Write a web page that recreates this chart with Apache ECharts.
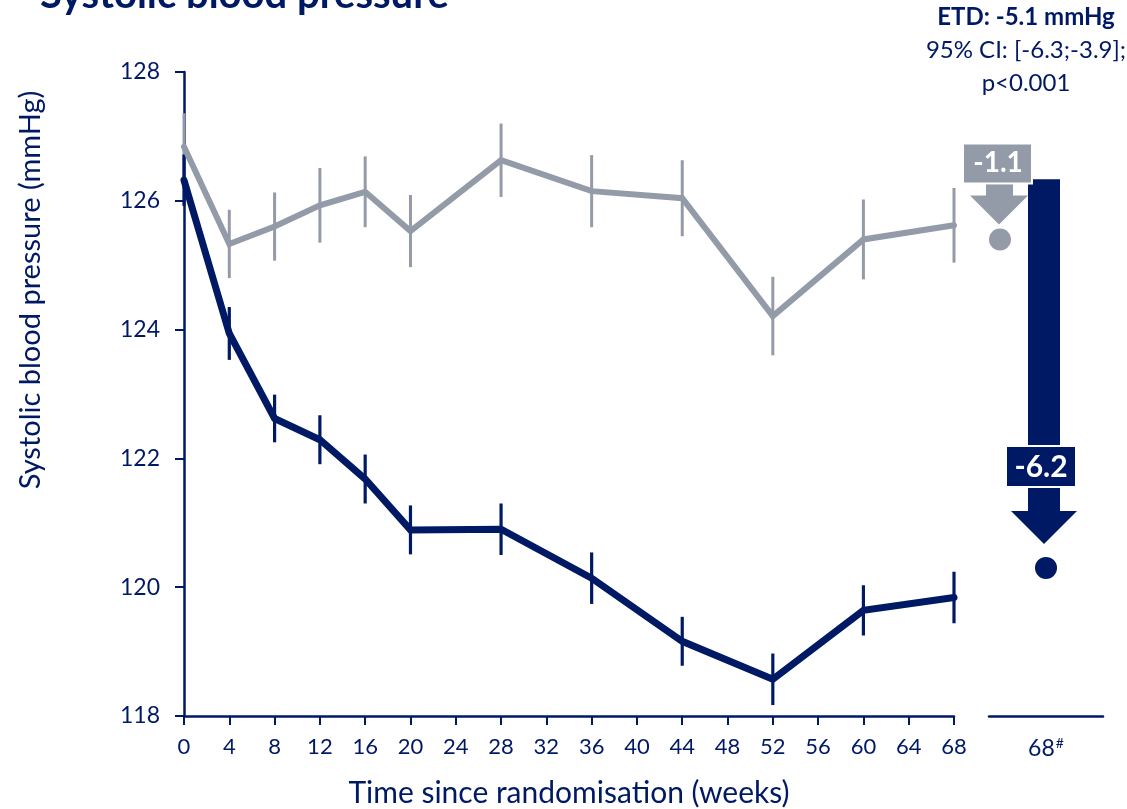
<!DOCTYPE html>
<html>
<head>
<meta charset="utf-8">
<script src="https://cdn.jsdelivr.net/npm/echarts@6/dist/echarts.min.js"></script>
<style>
  html, body { margin: 0; padding: 0; background: #ffffff; }
  #chart { width: 1127px; height: 809px; }
</style>
</head>
<body>
<div id="chart"></div>
<script>
// Colours and font
const NAVY = '#001965';
const GREY = '#949BA8';
const FONT = 'Lato, "Open Sans", sans-serif';

// Observed means (mmHg) with error-bar half widths, by week since randomisation
const weeks = [0, 4, 8, 12, 16, 20, 28, 36, 44, 52, 60, 68];
const semaMean = [126.32, 123.94, 122.62, 122.29, 121.68, 120.89, 120.90, 120.14, 119.16, 118.57, 119.64, 119.84];
const semaErr = [0.40, 0.41, 0.37, 0.38, 0.38, 0.38, 0.40, 0.40, 0.38, 0.40, 0.39, 0.40];
const placeboMean = [126.84, 125.33, 125.60, 125.93, 126.14, 125.53, 126.63, 126.15, 126.04, 124.21, 125.40, 125.62];
const placeboErr = [0.52, 0.53, 0.53, 0.58, 0.55, 0.56, 0.57, 0.56, 0.59, 0.61, 0.62, 0.58];

// Axis ticks
const yMin = 118, yMax = 128, yStep = 2;
const xMin = 0, xMax = 68, xStep = 4;

// Estimated change from baseline at week 68
const baselineSBP = 126.5;
const estCategory = '68';
const placeboChange = -1.1;
const semaChange = -6.2;
const placeboEst = baselineSBP + placeboChange;
const semaEst = baselineSBP + semaChange;

// Treatment difference summary
const etdLines = ['ETD: -5.1 mmHg', '95% CI: [-6.3;-3.9];', 'p<0.001'];

function errorBars(mean, err, color, width) {
  return {
    type: 'custom',
    xAxisIndex: 0, yAxisIndex: 0,
    silent: true,
    data: weeks.map((w, i) => [w, mean[i] - err[i], mean[i] + err[i]]),
    encode: { x: 0, y: [1, 2] },
    renderItem(params, api) {
      const lo = api.coord([api.value(0), api.value(1)]);
      const hi = api.coord([api.value(0), api.value(2)]);
      return {
        type: 'line',
        shape: { x1: lo[0], y1: lo[1], x2: hi[0], y2: hi[1] },
        style: { stroke: color, lineWidth: width }
      };
    }
  };
}

function meanLine(mean, color, width) {
  return {
    type: 'line',
    xAxisIndex: 0, yAxisIndex: 0,
    silent: true,
    showSymbol: false,
    data: weeks.map((w, i) => [w, mean[i]]),
    lineStyle: { color: color, width: width, cap: 'round', join: 'miter' }
  };
}

const chart = echarts.init(document.getElementById('chart'), null, { renderer: 'canvas' });

const axisLineStyle = { color: NAVY, width: 2.5 };

const option = {
  animation: false,
  backgroundColor: '#ffffff',
  textStyle: { fontFamily: FONT },
  grid: [
    { left: 184, right: 173, top: 72, bottom: 93, containLabel: false, outerBoundsMode: 'none' },
    { left: 989, right: 24, top: 72, bottom: 93, containLabel: false, outerBoundsMode: 'none' }
  ],
  xAxis: [
    {
      type: 'value', gridIndex: 0,
      min: xMin, max: xMax, interval: xStep,
      axisLine: { show: true, lineStyle: axisLineStyle },
      axisTick: { show: true, length: 9, lineStyle: { color: NAVY, width: 2 } },
      axisLabel: { color: NAVY, fontSize: 22, margin: 20, fontFamily: FONT },
      splitLine: { show: false },
      name: 'Time since randomisation (weeks)',
      nameLocation: 'middle',
      nameGap: 62,
      nameTextStyle: { color: NAVY, fontSize: 30, fontFamily: FONT }
    },
    {
      type: 'category', gridIndex: 1,
      data: [estCategory],
      axisLine: { show: true, lineStyle: axisLineStyle },
      axisTick: { show: false },
      axisLabel: {
        color: NAVY, margin: 20,
        formatter: (v) => '{n|' + v + '}{s|#}',
        rich: {
          n: { fontSize: 23, color: NAVY, fontFamily: FONT },
          s: { fontSize: 14, color: NAVY, fontFamily: FONT, padding: [0, 0, 11, 1] }
        }
      },
      splitLine: { show: false }
    }
  ],
  yAxis: [
    {
      type: 'value', gridIndex: 0,
      min: yMin, max: yMax, interval: yStep,
      axisLine: { show: true, lineStyle: axisLineStyle },
      axisTick: { show: true, length: 9, lineStyle: { color: NAVY, width: 2 } },
      axisLabel: { color: NAVY, fontSize: 23, margin: 24, fontFamily: FONT },
      splitLine: { show: false }
    },
    {
      type: 'value', gridIndex: 1,
      min: yMin, max: yMax, interval: yStep,
      show: false
    }
  ],
  series: [
    errorBars(placeboMean, placeboErr, GREY, 3),
    meanLine(placeboMean, GREY, 6),
    errorBars(semaMean, semaErr, NAVY, 3.2),
    meanLine(semaMean, NAVY, 7),
    {
      type: 'scatter', xAxisIndex: 1, yAxisIndex: 1, silent: true,
      symbolSize: 22, symbolOffset: [-46, 0],
      itemStyle: { color: GREY, opacity: 1 },
      data: [[estCategory, placeboEst]]
    },
    {
      type: 'scatter', xAxisIndex: 1, yAxisIndex: 1, silent: true,
      symbolSize: 22,
      itemStyle: { color: NAVY, opacity: 1 },
      data: [[estCategory, semaEst]]
    }
  ]
};

chart.setOption(option);

// Change arrows, placed from the week-68 estimate points
const semaPt = chart.convertToPixel({ seriesIndex: 5 }, [estCategory, semaEst]);
const placeboPt = chart.convertToPixel({ seriesIndex: 4 }, [estCategory, placeboEst]);
const basePx = chart.convertToPixel({ xAxisIndex: 1, yAxisIndex: 1 }, [estCategory, semaMean[0]]);
const gx = placeboPt[0] - 46, gy = placeboPt[1];
const sx = semaPt[0], sy = semaPt[1];
const ax = sx - 2;

const graphics = [
  // Title
  {
    type: 'text', x: 40, y: -5, silent: true,
    style: { text: 'Systolic blood pressure', fill: NAVY, font: 'bold 40px ' + FONT, align: 'left', verticalAlign: 'middle' }
  },
  // Y axis title
  {
    type: 'text', x: 31, y: 290, rotation: Math.PI / 2, silent: true,
    style: { text: 'Systolic blood pressure (mmHg)', fill: NAVY, font: '29px ' + FONT, align: 'center', verticalAlign: 'middle' }
  },
  // Treatment difference
  {
    type: 'text', x: 1026, y: 17, silent: true,
    style: { text: etdLines[0], fill: NAVY, font: 'bold 24px ' + FONT, align: 'center', verticalAlign: 'middle' }
  },
  {
    type: 'text', x: 1026, y: 50, silent: true,
    style: { text: etdLines[1], fill: NAVY, font: '24px ' + FONT, align: 'center', verticalAlign: 'middle' }
  },
  {
    type: 'text', x: 1026, y: 83, silent: true,
    style: { text: etdLines[2], fill: NAVY, font: '24px ' + FONT, align: 'center', verticalAlign: 'middle' }
  },
  // Semaglutide arrow: shaft, label box, lower shaft, head
  {
    type: 'rect', z: 100, silent: true,
    shape: { x: ax - 16, y: basePx[1] - 1, width: 32, height: (sy - 122) - (basePx[1] - 1) },
    style: { fill: NAVY }
  },
  {
    type: 'rect', z: 101, silent: true,
    shape: { x: ax - 38, y: sy - 122, width: 70, height: 41 },
    style: { fill: NAVY, stroke: '#ffffff', lineWidth: 2 }
  },
  {
    type: 'text', z: 102, silent: true, x: ax - 3, y: sy - 101,
    style: { text: (semaChange).toFixed(1), fill: '#ffffff', font: 'bold 30px ' + FONT, align: 'center', verticalAlign: 'middle' }
  },
  {
    type: 'rect', z: 100, silent: true,
    shape: { x: ax - 16, y: sy - 80, width: 32, height: 24 },
    style: { fill: NAVY }
  },
  {
    type: 'polygon', z: 100, silent: true,
    shape: { points: [[ax - 33, sy - 57], [ax + 33, sy - 57], [ax, sy - 24]] },
    style: { fill: NAVY }
  },
  // Placebo arrow: label box, shaft, head
  {
    type: 'rect', z: 103, silent: true,
    shape: { x: gx - 37, y: gy - 96, width: 69, height: 40 },
    style: { fill: GREY, stroke: '#ffffff', lineWidth: 2 }
  },
  {
    type: 'text', z: 104, silent: true, x: gx - 2, y: gy - 76,
    style: { text: (placeboChange).toFixed(1), fill: '#ffffff', font: 'bold 28px ' + FONT, align: 'center', verticalAlign: 'middle' }
  },
  {
    type: 'rect', z: 103, silent: true,
    shape: { x: gx - 14, y: gy - 55, width: 27, height: 12 },
    style: { fill: GREY }
  },
  {
    type: 'polygon', z: 103, silent: true,
    shape: { points: [[gx - 30, gy - 44], [gx + 28, gy - 44], [gx - 1, gy - 15]] },
    style: { fill: GREY }
  }
];

chart.setOption({ graphic: graphics });
</script>
</body>
</html>
